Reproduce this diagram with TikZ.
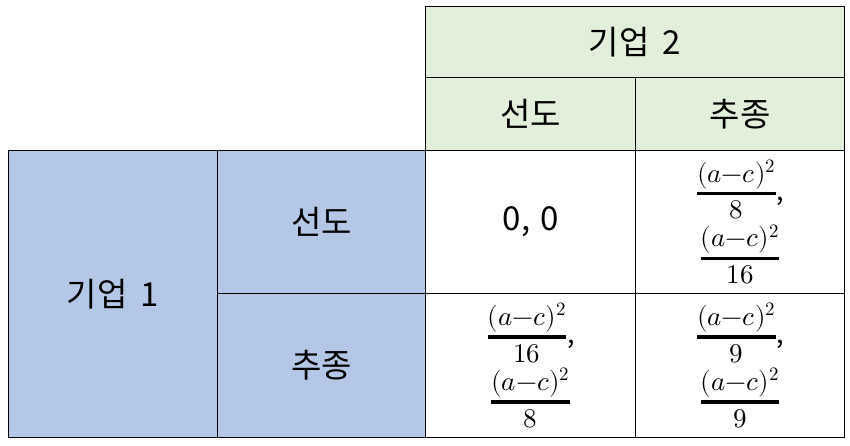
\documentclass[tikz,border=0pt]{standalone}
\usepackage{amsmath}
\usepackage{fontspec}
\usepackage{unicode-math}
\setmainfont{Noto Sans CJK KR}
\setmathfont{Latin Modern Math}
\usetikzlibrary{positioning}
\definecolor{headgreen}{RGB}{226,239,218}
\definecolor{headblue}{RGB}{180,199,231}
\tikzset{
	cell/.style={
		% The shape:
		rectangle,anchor=north west,inner sep=0pt,
		% The border:
		draw=black,line width=1.1pt,
		% The text:
		font=\fontsize{33}{38}\selectfont,align=center},
	firm2/.style={cell,fill=headgreen},
	firm1/.style={cell,fill=headblue},
	payoff/.style={cell,fill=white,
		font=\fontsize{27}{27}\selectfont}}
% one payoff pair, thick fraction bars as in the table
\newcommand{\pay}[2]{%
	$\genfrac{}{}{3.4pt}{0}{(a{-}c)^2}{#1}$,\\[4pt]$\genfrac{}{}{3.4pt}{0}{(a{-}c)^2}{#2}$}

\begin{document}
\begin{tikzpicture}[x=1pt,y=-1pt]
	\useasboundingbox (0,0) rectangle (850,445);
	% Header of firm 2
	\node[firm2,minimum width=419pt,minimum height=71pt] (g2) at (425,6) {기업\hspace{0.4em}2};
	\node[firm2,minimum width=210pt,minimum height=73pt] (g2lead) at (425,77) {선도};
	\node[firm2,minimum width=209pt,minimum height=73pt] (g2follow) at (635,77) {추종};
	% Header of firm 1
	\node[firm1,minimum width=209pt,minimum height=287pt] (g1) at (8,150) {기업\hspace{0.4em}1};
	\node[firm1,minimum width=208pt,minimum height=143pt] (g1lead) at (217,150) {선도};
	\node[firm1,minimum width=208pt,minimum height=144pt] (g1follow) at (217,293) {추종};
	% Payoffs
	\node[payoff,minimum width=210pt,minimum height=143pt,
		font=\fontsize{33}{38}\selectfont] (ll) at (425,150) {0,\hspace{0.3em}0};
	\node[payoff,minimum width=209pt,minimum height=143pt] (lf) at (635,150) {\pay{8}{16}};
	\node[payoff,minimum width=210pt,minimum height=144pt] (fl) at (425,293) {\pay{16}{8}};
	\node[payoff,minimum width=209pt,minimum height=144pt] (ff) at (635,293) {\pay{9}{9}};
\end{tikzpicture}
\end{document}
